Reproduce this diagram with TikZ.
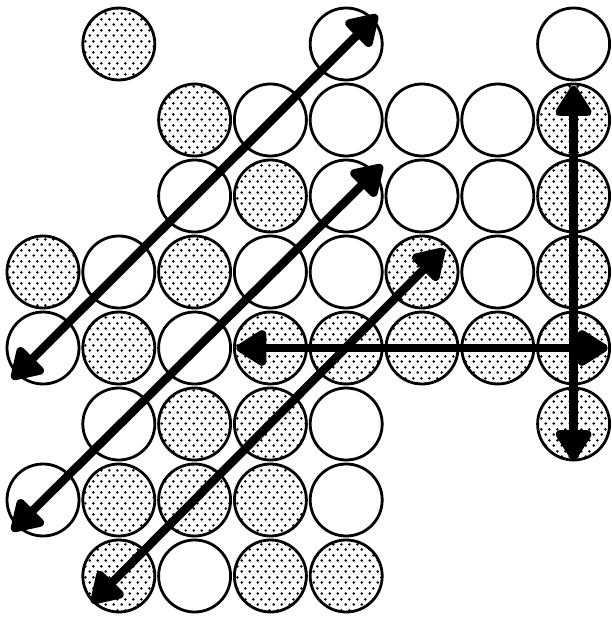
\documentclass[tikz,border=0pt]{standalone}
\usetikzlibrary{patterns,arrows.meta,calc}
\pgfdeclarepatternformonly{mydots}{\pgfpointorigin}{\pgfpoint{8pt}{10.5pt}}{\pgfpoint{8pt}{10.5pt}}{%
  \pgfpathcircle{\pgfpoint{2pt}{2.6pt}}{1.5pt}%
  \pgfpathcircle{\pgfpoint{6pt}{7.9pt}}{1.5pt}%
  \pgfusepath{fill}}
\tikzset{
  ball/.style={circle,draw,line width=2.8pt,minimum size=72pt,inner sep=0pt,fill=white},
  dotball/.style={ball,pattern=mydots},
  blob/.tip={Triangle[round,length=34pt,width=40pt]},
  bigarrow/.style={line width=8.5pt,blob-blob}
}
\begin{document}
\begin{tikzpicture}[x=1pt,y=-1pt]
\useasboundingbox (0,0) rectangle (611,617);
% white circles
\foreach \r/\c in {0/4,0/7,1/3,1/4,1/5,1/6,2/2,2/4,2/5,2/6,3/1,3/3,3/4,3/6,4/0,4/2,5/1,5/4,6/0,6/4,7/2}
  \node[ball] (c\r\c) at ({43+75.8*\c},{44+76*\r}) {};
% dotted circles
\foreach \r/\c in {0/1,1/2,1/7,2/3,2/7,3/0,3/2,3/5,3/7,4/1,4/3,4/4,4/5,4/6,4/7,5/2,5/3,5/7,6/1,6/2,6/3,7/1,7/3,7/4}
  \node[dotball] (c\r\c) at ({43+75.8*\c},{44+76*\r}) {};
% arrow end points
\coordinate (a1s) at ($(c40.center)+(-31,31)$);
\coordinate (a1e) at ($(c04.center)+(31,-29)$);
\coordinate (a2s) at ($(c60.center)+(-31,31)$);
\coordinate (a2e) at ($(c24.center)+(36,-31)$);
\coordinate (a3s) at ($(c71.center)+(-27,27)$);
\coordinate (a3e) at ($(c35.center)+(22,-23)$);
\coordinate (h1) at ($(c43.center)+(-34,0)$);
\coordinate (h2) at ($(c47.center)+(34,0)$);
\coordinate (v1) at ($(c17.center)+(0,-34)$);
\coordinate (v2) at ($(c57.center)+(0,36)$);
\draw[bigarrow] (a1s) -- (a1e);
\draw[bigarrow] (a2s) -- (a2e);
\draw[bigarrow] (a3s) -- (a3e);
\draw[bigarrow] (h1) -- (h2);
\draw[bigarrow] (v1) -- (v2);
\end{tikzpicture}
\end{document}
